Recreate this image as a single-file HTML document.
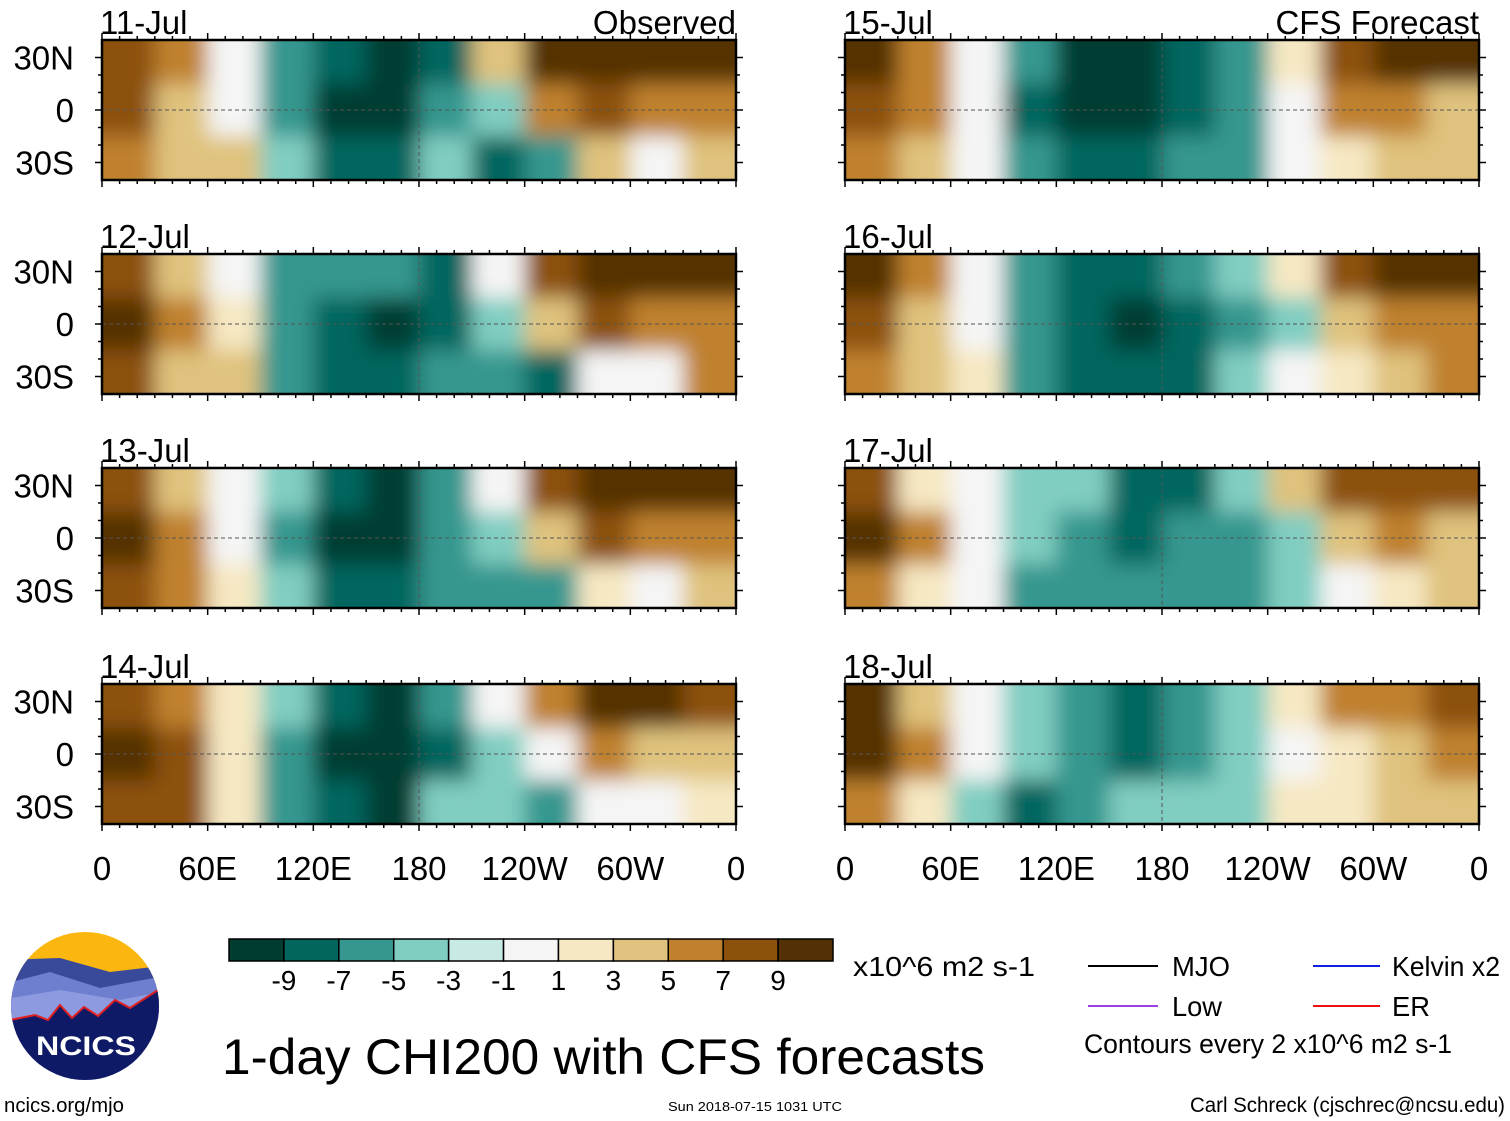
<!DOCTYPE html>
<html><head><meta charset="utf-8"><style>
html,body{margin:0;padding:0;background:#fff}
svg{display:block;font-family:"Liberation Sans",sans-serif}
</style></head><body>
<svg id="chart" width="1510" height="1121" viewBox="0 0 1510 1121" xmlns="http://www.w3.org/2000/svg">
<defs>
<filter id="blur" x="-10%" y="-30%" width="120%" height="160%"><feGaussianBlur stdDeviation="10"/></filter>
</defs>
<g id="panels"></g>
<g id="static">
<g>
<clipPath id="logoclip"><circle cx="85" cy="1006" r="74"/></clipPath>
<g clip-path="url(#logoclip)">
<rect x="0" y="920" width="170" height="180" fill="#fbb70f"/>
<path d="M0 960 L60 958 L110 972 L170 965 L170 1100 L0 1100Z" fill="#3a4a9a"/>
<path d="M0 985 L50 972 L100 988 L170 975 L170 1100 L0 1100Z" fill="#6f7fd0"/>
<path d="M0 1000 L60 990 L120 1000 L170 990 L170 1100 L0 1100Z" fill="#8d9ae0"/>
<path d="M0 1022 L35 1015 L48 1020 L60 1005 L72 1018 L84 1007 L98 1016 L115 1000 L130 1008 L158 990 L170 985 L170 1100 L0 1100Z" fill="#0e1a66" stroke="#e02020" stroke-width="2"/>
</g>
<text x="86" y="1055" font-size="27" font-weight="bold" fill="#fff" text-anchor="middle" textLength="100" lengthAdjust="spacingAndGlyphs">NCICS</text>
</g>
<text x="4" y="1112" font-size="20" textLength="120" lengthAdjust="spacingAndGlyphs">ncics.org/mjo</text>
<text x="668" y="1111" font-size="13" textLength="174" lengthAdjust="spacingAndGlyphs">Sun 2018-07-15 1031 UTC</text>
<text x="1190" y="1112" font-size="21" textLength="315" lengthAdjust="spacingAndGlyphs">Carl Schreck (cjschrec@ncsu.edu)</text>
<text x="222" y="1074" font-size="50" textLength="763" lengthAdjust="spacingAndGlyphs">1-day CHI200 with CFS forecasts</text>
<text x="853" y="976" font-size="28" textLength="182" lengthAdjust="spacingAndGlyphs">x10^6 m2 s-1</text>
<g>
<line x1="1088" y1="966" x2="1158" y2="966" stroke="#000" stroke-width="2"/>
<text x="1172" y="976" font-size="28" textLength="58" lengthAdjust="spacingAndGlyphs">MJO</text>
<line x1="1313" y1="966" x2="1380" y2="966" stroke="#1020e0" stroke-width="2"/>
<text x="1392" y="976" font-size="28" textLength="108" lengthAdjust="spacingAndGlyphs">Kelvin x2</text>
<line x1="1088" y1="1006" x2="1158" y2="1006" stroke="#9a3ee0" stroke-width="2"/>
<text x="1172" y="1016" font-size="28" textLength="50" lengthAdjust="spacingAndGlyphs">Low</text>
<line x1="1313" y1="1006" x2="1380" y2="1006" stroke="#f01010" stroke-width="2"/>
<text x="1392" y="1016" font-size="28" textLength="38" lengthAdjust="spacingAndGlyphs">ER</text>
<text x="1084" y="1053" font-size="27" textLength="368" lengthAdjust="spacingAndGlyphs">Contours every 2 x10^6 m2 s-1</text>
</g>
<g id="colorbar"></g>
</g>
</svg>
<script>
const colors=["#003c30","#01665e","#35978f","#80cdc1","#c7eae5","#f5f5f5","#f6e8c3","#dfc27d","#bf812d","#8c510a","#543005"];
const cbLabels=["-9","-7","-5","-3","-1","1","3","5","7","9"];
const xTickLabels=["0","60E","120E","180","120W","60W","0"];
const yTickLabels=["30N","0","30S"];
const dates=["11-Jul","12-Jul","13-Jul","14-Jul","15-Jul","16-Jul","17-Jul","18-Jul"];
// values per 30-degree longitude bin, rows: 30N band, equator, 30S band
const p1=[[8,6,0,-6,-8,-10,-8,4,10,10,10,10],[8,4,-1,-6,-10,-10,-6,-4,6,8,6,6],[6,4,4,-4,-8,-8,-4,-8,-6,4,-1,4]];
const p2=[[8,4,-1,-6,-6,-6,-8,0,8,10,10,10],[10,6,1,-6,-8,-10,-8,-4,4,8,6,6],[8,4,4,-6,-8,-8,-6,-6,-8,-1,-1,6]];
const p3=[[8,4,-1,-4,-8,-10,-6,-1,8,10,10,10],[10,6,-1,-6,-10,-10,-6,-4,4,8,6,6],[8,6,1,-4,-8,-8,-6,-6,-6,1,0,4]];
const p4=[[8,6,1,-4,-8,-10,-6,-1,6,10,10,8],[10,8,1,-6,-10,-10,-8,-4,-1,6,4,4],[8,8,1,-6,-8,-10,-4,-4,-6,-1,-1,1]];
const p5=[[10,6,0,-6,-10,-10,-8,-6,1,8,10,10],[8,6,0,-8,-10,-10,-8,-6,-1,6,6,4],[6,4,-1,-6,-8,-8,-6,-6,-1,1,4,4]];
const p6=[[10,6,-1,-6,-8,-8,-6,-4,1,8,10,10],[8,4,-1,-6,-8,-10,-8,-6,-4,4,6,6],[6,4,1,-6,-8,-8,-8,-4,-1,1,4,6]];
const p7=[[8,1,-1,-4,-4,-8,-8,-4,4,8,8,8],[10,6,0,-4,-6,-8,-6,-6,-4,4,6,4],[6,1,-1,-6,-6,-6,-6,-6,-4,0,1,4]];
const p8=[[10,4,-1,-4,-6,-8,-6,-4,1,6,6,8],[10,6,-1,-4,-6,-8,-6,-4,-1,1,4,6],[6,1,-4,-8,-6,-4,-4,-4,1,1,4,4]];
const panelData=[p1,p2,p3,p4,p5,p6,p7,p8];

const NS="http://www.w3.org/2000/svg";
function mk(t,a,p){const e=document.createElementNS(NS,t);for(const k in a)e.setAttribute(k,a[k]);p.appendChild(e);return e;}
function colorFor(v){let i=Math.floor((v+11)/2);return colors[Math.max(0,Math.min(10,i))];}
const colX=[102,845], rowY=[40,254,468,684], PW=634, PH=140;
const lonScale=(lon,x0)=>x0+lon/360*PW;
const latScale=(lat,y0)=>y0+(40-lat)/80*PH;
const root=document.getElementById('panels');
panelData.forEach((d,pi)=>{
  const col=pi<4?0:1,row=pi%4,x0=colX[col],y0=rowY[row];
  const g=mk('g',{},root);
  
  
  const cp=mk('clipPath',{id:'c'+pi},g);
  mk('rect',{x:x0,y:y0,width:PW,height:PH},cp);
  const cg=mk('g',{'clip-path':'url(#c'+pi+')'},g);
  const bg=mk('g',{filter:'url(#blur)'},cg);
  const lats=[40,15,-15,-40];
  d.forEach((r,ri)=>r.forEach((v,ci)=>{
    let xa=lonScale(ci*30,x0),xb=lonScale(ci*30+30,x0);
    let ya=latScale(lats[ri],y0),yb=latScale(lats[ri+1],y0);
    if(ci==0)xa-=30; if(ci==11)xb+=30; if(ri==0)ya-=30; if(ri==2)yb+=30;
    const c=mk('rect',{x:xa,y:ya,width:xb-xa+1,height:yb-ya+1,fill:colorFor(v)},bg);
    
    
  }));
  mk('line',{x1:x0,x2:x0+PW,y1:latScale(0,y0),y2:latScale(0,y0),stroke:'#555','stroke-dasharray':'4 3','stroke-width':1},g);
  mk('line',{x1:lonScale(180,x0),x2:lonScale(180,x0),y1:y0,y2:y0+PH,stroke:'#555','stroke-dasharray':'4 3','stroke-width':1},g);
  mk('rect',{x:x0,y:y0,width:PW,height:PH,fill:'none',stroke:'#000','stroke-width':2.5},g);
  for(let lon=0;lon<=360;lon+=10){const x=lonScale(lon,x0),L=lon%60==0?7:4;
    mk('line',{x1:x,x2:x,y1:y0,y2:y0-L,stroke:'#000','stroke-width':1.5},g);
    mk('line',{x1:x,x2:x,y1:y0+PH,y2:y0+PH+L,stroke:'#000','stroke-width':1.5},g);}
  for(let lat=-30;lat<=30;lat+=10){const y=latScale(lat,y0),L=lat%30==0?7:4;
    mk('line',{x1:x0,x2:x0-L,y1:y,y2:y,stroke:'#000','stroke-width':1.5},g);
    mk('line',{x1:x0+PW,x2:x0+PW+L,y1:y,y2:y,stroke:'#000','stroke-width':1.5},g);}
  const t=mk('text',{x:x0-2,y:y0-6,'font-size':33},g);t.textContent=dates[pi];
  
  
  if(row==0){const tt=mk('text',{x:x0+PW,y:y0-6,'font-size':33,'text-anchor':'end'},g);tt.textContent=col==0?'Observed':'CFS Forecast';
    
    }
  if(col==0){[30,0,-30].forEach((lat,i)=>{const yt=mk('text',{x:74,y:latScale(lat,y0)+12,'font-size':33,'text-anchor':'end'},g);yt.textContent=yTickLabels[i];
    
    });}
  if(row==3){xTickLabels.forEach((l,i)=>{const xt=mk('text',{x:lonScale(i*60,x0),y:880,'font-size':33,'text-anchor':'middle'},g);xt.textContent=l;
    
    });}
});
const cb=document.getElementById('colorbar');
const cbx=229,cbw=604/11;
colors.forEach((c,i)=>{const r=mk('rect',{x:cbx+i*cbw,y:939,width:cbw,height:22,fill:c,stroke:'#000','stroke-width':1.5},cb);
  
  });
cbLabels.forEach((l,i)=>{const t=mk('text',{x:cbx+(i+1)*cbw,y:990,'font-size':28,'text-anchor':'middle'},cb);t.textContent=l;
  
  });
</script>
</body></html>
